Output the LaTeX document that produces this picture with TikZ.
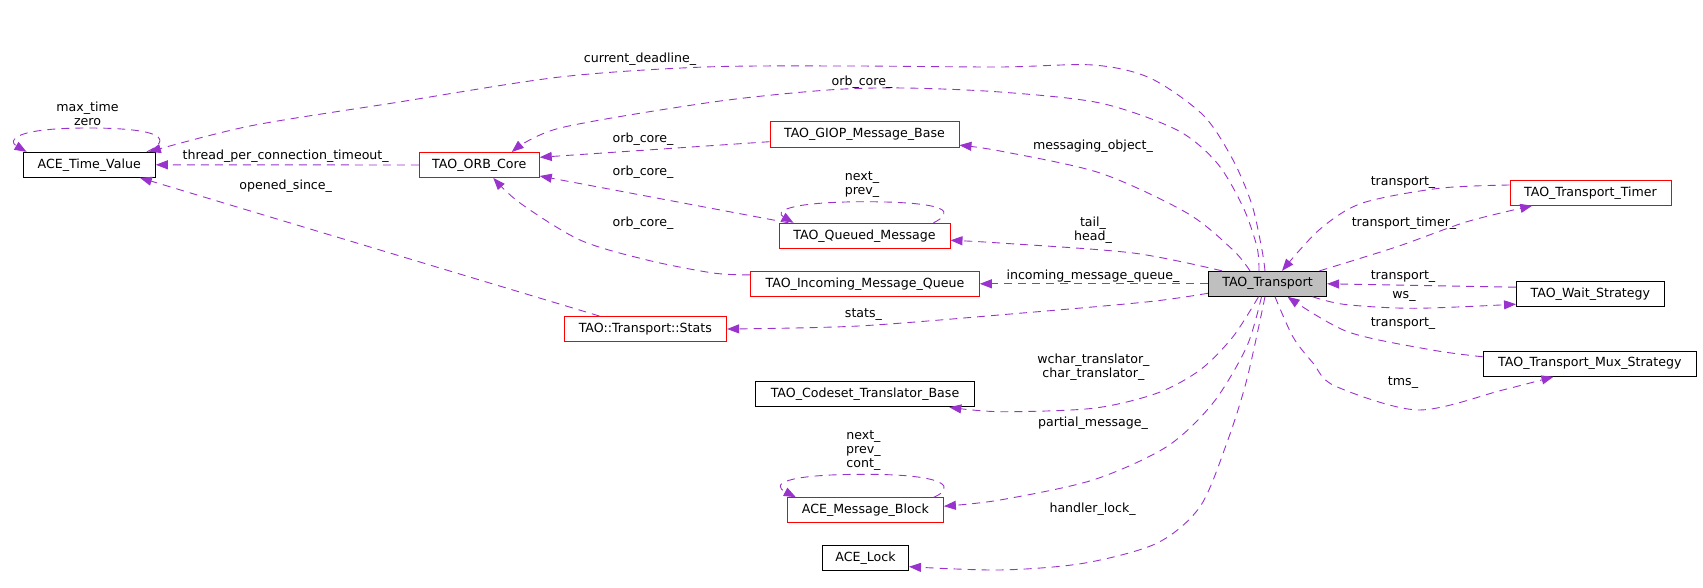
\documentclass[tikz,border=0pt]{standalone}
\usepackage{fontspec}
\setmainfont{DejaVu Sans}
\usetikzlibrary{arrows.meta,calc}
\definecolor{ecol}{HTML}{9A32CD}
\definecolor{trfill}{HTML}{BFBFBF}
\definecolor{rcol}{HTML}{FF0000}
\begin{document}
\begin{tikzpicture}[x=1pt,y=-1pt,
  font=\fontsize{12.6}{14}\selectfont,
  box/.style={draw=black, line width=0.9pt, minimum height=25pt, inner sep=0pt, fill=white},
  rbox/.style={box, draw=rcol},
  rel/.style={draw=ecol, line width=0.9pt, dash pattern=on 8pt off 6pt, -{Triangle[length=12pt,width=9pt]}},
  lbl/.style={inner sep=0pt, align=center}]
\useasboundingbox (0,0) rectangle (1703,588);
% nodes
\node[box, minimum width=132.4pt] (tv) at (89.2,164.8) {ACE\_Time\_Value};
\node[rbox, minimum width=120pt] (orb) at (479.3,165) {TAO\_ORB\_Core};
\node[rbox, minimum width=189pt, minimum height=26pt] (giop) at (864.5,134.2) {TAO\_GIOP\_Message\_Base};
\node[rbox, minimum width=171pt] (qm) at (864.5,235.8) {TAO\_Queued\_Message};
\node[rbox, minimum width=228.8pt] (imq) at (865,283.8) {TAO\_Incoming\_Message\_Queue};
\node[rbox, minimum width=162.7pt] (st) at (645.3,329) {TAO::Transport::Stats};
\node[box, fill=trfill, minimum width=118.3pt] (tr) at (1267.5,283.8) {TAO\_Transport};
\node[rbox, minimum width=161pt] (tmr) at (1590.5,192.8) {TAO\_Transport\_Timer};
\node[box, minimum width=147.8pt] (ws) at (1590.4,294.2) {TAO\_Wait\_Strategy};
\node[box, minimum width=213.1pt] (mux) at (1589.9,363.8) {TAO\_Transport\_Mux\_Strategy};
\node[box, minimum width=218.9pt] (cs) at (865,394.3) {TAO\_Codeset\_Translator\_Base};
\node[rbox, minimum width=156.1pt] (mb) at (865.4,510.2) {ACE\_Message\_Block};
\node[box, minimum width=86.1pt] (lk) at (865.5,558.2) {ACE\_Lock};
% end coordinates
\coordinate (tvL) at ($(tv.north east)+(-9,0)$);
\coordinate (tvLe) at ($(tv.north west)+(4,0)$);
\coordinate (cdS) at ($(tr.north)+(-2.5,0)$);
\coordinate (cdE) at ($(tv.north east)+(-7,0)$);
\coordinate (ocS) at ($(tr.north)+(-8.5,0)$);
\coordinate (ocE) at ($(orb.north east)+(-28,0)$);
\coordinate (gS) at ($(giop.west)+(0,7.5)$);
\coordinate (gE) at ($(orb.east)+(0,-7.7)$);
\coordinate (qS) at ($(qm.north west)+(10,0)$);
\coordinate (qE) at ($(orb.east)+(0,11)$);
\coordinate (iS) at ($(imq.north west)+(0,4)$);
\coordinate (iE) at ($(orb.south)+(14,0)$);
\coordinate (osS) at ($(st.north west)+(36,0)$);
\coordinate (osE) at ($(tv.south east)+(-16,0)$);
\coordinate (qlS) at ($(qm.north east)+(-17,0)$);
\coordinate (qlE) at ($(qm.north west)+(15,0)$);
\coordinate (moS) at ($(tr.north)+(-17.5,0)$);
\coordinate (moE) at ($(giop.east)+(0,11)$);
\coordinate (thS) at ($(tr.north)+(-45.5,0)$);
\coordinate (thE) at ($(qm.east)+(0,4.5)$);
\coordinate (sS) at ($(tr.west)+(0,9.5)$);
\coordinate (tmS) at ($(tmr.west)+(0,-7.8)$);
\coordinate (tmE) at ($(tr.north)+(14.5,0)$);
\coordinate (ttS) at ($(tr.north east)+(-7.6,0)$);
\coordinate (ttE) at ($(tmr.south west)+(22.7,0)$);
\coordinate (wtS) at ($(ws.west)+(0,-7)$);
\coordinate (wsS) at ($(tr.south east)+(-14.6,0)$);
\coordinate (wsE) at ($(ws.west)+(0,10)$);
\coordinate (mxS) at ($(mux.west)+(0,-7)$);
\coordinate (mxE) at ($(tr.south)+(20,0)$);
\coordinate (tmsS) at ($(tr.south)+(7.5,0)$);
\coordinate (tmsE) at ($(mux.south west)+(70.6,0)$);
\coordinate (csS) at ($(tr.south)+(-9,0)$);
\coordinate (csE) at ($(cs.south east)+(-25.6,0)$);
\coordinate (pmS) at ($(tr.south)+(-6,0)$);
\coordinate (pmE) at ($(mb.east)+(0,-4)$);
\coordinate (hlS) at ($(tr.south)+(-2.5,0)$);
\coordinate (hlE) at ($(lk.east)+(0,8.5)$);
\coordinate (mlS) at ($(mb.north east)+(-10,0)$);
\coordinate (mlE) at ($(mb.north west)+(9,0)$);
% edges
\draw[rel] (tvL) .. controls (172,140) and (165,128) .. (88,128) .. controls (12,128) and (8,141) .. (tvLe);
\draw[rel] plot[smooth] coordinates {(cdS) (1262,250) (1252,205) (1233,160) (1203,115) (1150,78) (1093,65) (1000,67) (850,66) (705,67) (560,77) (393,103) (250,126) (cdE)};
\draw[rel] plot[smooth] coordinates {(ocS) (1257,247) (1243,207) (1217,163) (1177,130) (1100,103) (1000,92) (904,88) (828,90) (713,102) (560,128) (ocE)};
\draw[rel] (orb.west) -- (tv.east);
\draw[rel] (gS) -- (gE);
\draw[rel] (qS) -- (qE);
\draw[rel] plot[smooth] coordinates {(iS) (713,273) (647,260) (580,240) (520,203) (iE)};
\draw[rel] (osS) -- (osE);
\draw[rel] (qlS) .. controls (955,212) and (950,202) .. (865,201.7) .. controls (785,202) and (775,212) .. (qlE);
\draw[rel] plot[smooth] coordinates {(moS) (1233,250) (1187,213) (1100,173) (1000,151) (moE)};
\draw[rel] plot[smooth] coordinates {(thS) (1133,253) (1000,243) (thE)};
\draw[rel] (tr.west) -- (imq.east);
\draw[rel] plot[smooth] coordinates {(sS) (1149,301.7) (1019,313.3) (858.5,326) (st.east)};
\draw[rel] plot[smooth] coordinates {(tmS) (1439,188.3) (1361.6,203.3) (1319,230) (tmE)};
\draw[rel] plot[smooth] coordinates {(ttS) (1397,246.7) (1467,221.7) (ttE)};
\draw[rel] (wtS) -- (tr.east);
\draw[rel] plot[smooth] coordinates {(wsS) (1345,304.5) (1414.6,308.3) (wsE)};
\draw[rel] plot[smooth] coordinates {(mxS) (1432,350) (1347.5,331.7) (mxE)};
\draw[rel] plot[smooth] coordinates {(tmsS) (1293,337) (1313,363) (1335,386) (1418,410) (1502.7,390) (tmsE)};
\draw[rel] plot[smooth] coordinates {(csS) (1233,336.7) (1200,370) (1156.7,393.3) (1093,408.3) (1000,411.7) (csE)};
\draw[rel] plot[smooth] coordinates {(pmS) (1246.7,346.7) (1213,403) (1166.7,446.7) (1093,480) (1000,500) (pmE)};
\draw[rel] plot[smooth] coordinates {(hlS) (1246.7,380) (1226.7,443.3) (1200,506.7) (1156.7,543.3) (1083.3,563.3) (1000,570) (hlE)};
\draw[rel] (mlS) .. controls (955,488) and (950,474.3) .. (865,474.3) .. controls (780,474.3) and (772,485) .. (mlE);
% labels
\node[lbl] (l1) at (87.5,113.7) {max\_time\\zero};
\node[lbl] (l2) at (285.7,156.7) {thread\_per\_connection\_timeout\_};
\node[lbl] (l3) at (285.7,186.7) {opened\_since\_};
\node[lbl] (l4) at (640,59.3) {current\_deadline\_};
\node[lbl] (l5) at (862,82.7) {orb\_core\_};
\node[lbl] (l6) at (643,139.3) {orb\_core\_};
\node[lbl] (l7) at (643,172.7) {orb\_core\_};
\node[lbl] (l8) at (643,222.7) {orb\_core\_};
\node[lbl] (l9) at (862,184.2) {next\_\\prev\_};
\node[lbl] (l10) at (1093,146.7) {messaging\_object\_};
\node[lbl] (l11) at (1093,229.7) {tail\_\\head\_};
\node[lbl] (l12) at (1093,275.7) {incoming\_message\_queue\_};
\node[lbl] (l13) at (863.5,314.3) {stats\_};
\node[lbl] (l14) at (1403,182.7) {transport\_};
\node[lbl] (l15) at (1404,223.3) {transport\_timer\_};
\node[lbl] (l16) at (1403,276.7) {transport\_};
\node[lbl] (l17) at (1404,296.7) {ws\_};
\node[lbl] (l18) at (1403,323.3) {transport\_};
\node[lbl] (l19) at (1403,382.3) {tms\_};
\node[lbl] (l20) at (1093.4,367.2) {wchar\_translator\_\\char\_translator\_};
\node[lbl] (l21) at (1093,423.3) {partial\_message\_};
\node[lbl] (l22) at (863.4,450.7) {next\_\\prev\_\\cont\_};
\node[lbl] (l23) at (1092.6,509) {handler\_lock\_};
\end{tikzpicture}
\end{document}
